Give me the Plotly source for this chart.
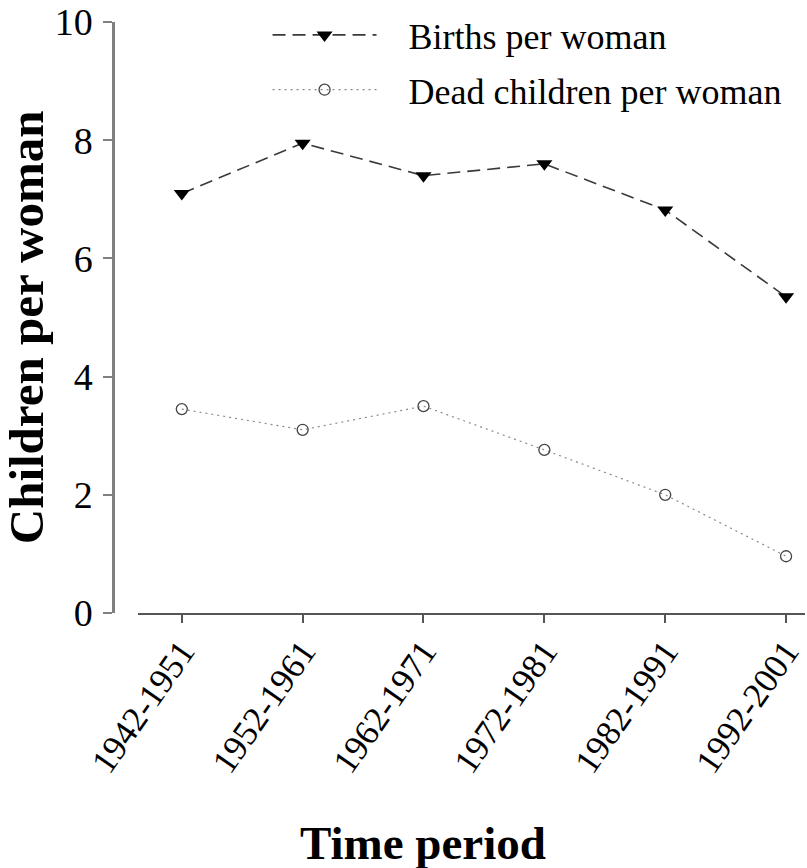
import plotly.graph_objects as go

periods = ["1942-1951", "1952-1961", "1962-1971", "1972-1981", "1982-1991", "1992-2001"]
births = [7.1, 7.95, 7.4, 7.6, 6.82, 5.35]
dead = [3.45, 3.1, 3.5, 2.76, 2.0, 0.96]
y_ticks = [0, 2, 4, 6, 8, 10]

W, H = 807, 868
ML, MR, MT, MB = 113, 0, 22, 255
PW = W - ML - MR
PH = H - MT - MB
FONT = "Liberation Serif, Times New Roman, serif"
PAD = "\u00a0\u00a0\u00a0"

idx = list(range(len(periods)))

fig = go.Figure()
fig.add_trace(go.Scatter(
    x=idx, y=births, mode="lines+markers", name=PAD + "Births per woman",
    legendgroup="b", xaxis="x", yaxis="y",
    line=dict(color="#3a3a3a", width=1.6, dash="13px,7px"),
    marker=dict(symbol="triangle-down", size=14, color="#000000",
                line=dict(width=0)),
))
fig.add_trace(go.Scatter(
    x=idx, y=dead, mode="lines+markers", name=PAD + "Dead children per woman",
    legendgroup="d", xaxis="x2", yaxis="y",
    line=dict(color="#8a8a8a", width=1.2, dash="2px,4px"),
    marker=dict(symbol="circle-open", size=11, color="#444444",
                line=dict(width=1.3)),
))

x0 = (138 - ML) / PW
xrange = [-(182 - 138) / 121.2, 5 + (807 - 788) / 121.2]
fig.update_layout(
    width=W, height=H,
    margin=dict(l=ML, r=MR, t=MT, b=MB, pad=0),
    plot_bgcolor="white", paper_bgcolor="white",
    font=dict(family=FONT, color="#000000", size=36),
    showlegend=True,
    legend=dict(
        x=(268 - ML) / PW, y=(613 - 5) / PH, xanchor="left", yanchor="top",
        bgcolor="rgba(0,0,0,0)", font=dict(family=FONT, size=36, color="#000"),
        itemwidth=104, tracegroupgap=5,
    ),
    xaxis=dict(
        domain=[x0, 1], range=xrange,
        tickmode="array", tickvals=idx, ticktext=periods,
        tickangle=-55,
        showline=True, linecolor="#555555", linewidth=2,
        ticks="", showgrid=False, zeroline=False,
        tickfont=dict(family=FONT, size=35, color="#000"),
        ticklabelstandoff=2, ticklabeloverflow="allow",
    ),
    xaxis2=dict(
        domain=[x0, 1], range=xrange, overlaying="x", anchor="y", side="bottom",
        tickmode="array", tickvals=idx, showticklabels=False,
        showline=False, ticks="outside", ticklen=9, tickwidth=1.5,
        tickcolor="#555555", showgrid=False, zeroline=False,
    ),
    yaxis=dict(
        range=[0, 10], anchor="free", position=0,
        tickmode="array", tickvals=y_ticks,
        showline=True, linecolor="#808080", linewidth=2.5,
        ticks="outside", ticklen=9, tickwidth=1.5, tickcolor="#808080",
        showgrid=False, zeroline=False,
        tickfont=dict(family=FONT, size=38, color="#000"),
        ticklabelstandoff=3,
    ),
    annotations=[
        dict(text="<b>Children per woman</b>", textangle=-90,
             xref="paper", yref="paper",
             x=(26 - ML) / PW, y=(613 - 327) / PH,
             xanchor="center", yanchor="middle", showarrow=False,
             font=dict(family=FONT, size=49, color="#000")),
        dict(text="<b>Time period</b>",
             xref="paper", yref="paper",
             x=(424 - ML) / PW, y=(613 - 843) / PH,
             xanchor="center", yanchor="middle", showarrow=False,
             font=dict(family=FONT, size=47, color="#000")),
    ],
)

fig.write_html("out.html")
